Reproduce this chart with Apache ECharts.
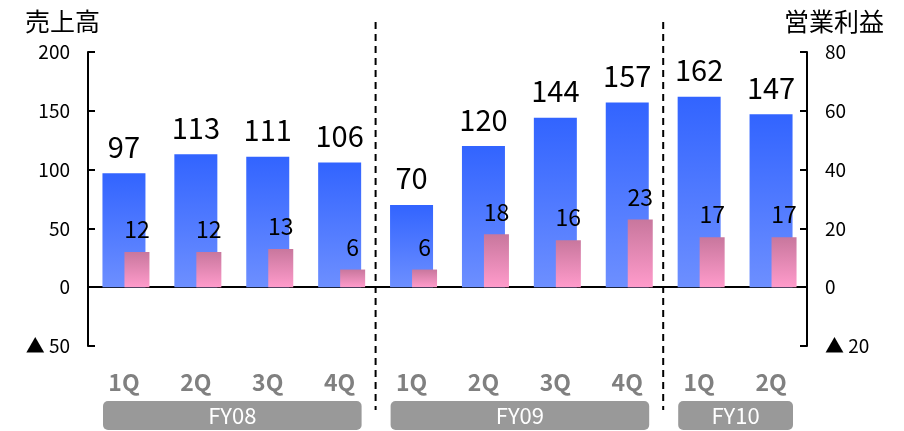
<!DOCTYPE html>
<html><head><meta charset="utf-8">
<script src="https://cdn.jsdelivr.net/npm/echarts@6/dist/echarts.min.js"></script>
<style>html,body{margin:0;padding:0;background:#fff}#c{width:904px;height:431px}</style>
</head><body><div id="c"></div><script>
// ---- data ----
const quarters = ['1Q','2Q','3Q','4Q','1Q','2Q','3Q','4Q','1Q','2Q'];
const fiscalYears = ['FY08','FY09','FY10'];
const quartersPerYear = [4,4,2];
const sales = [97,113,111,106,70,120,144,157,162,147];
const operatingProfit = [12,12,13,6,6,18,16,23,17,17];
const salesRange = {min:-50,max:200,interval:50};
const profitRange = {min:-20,max:80,interval:20};
const salesTitle = '売上高';
const profitTitle = '営業利益';

// ---- chart ----
const FONT = '"Noto Sans CJK JP","Noto Sans",sans-serif';
const chart = echarts.init(document.getElementById('c'), null, {renderer:'canvas'});
const neg = v => v < 0 ? '▲ ' + Math.abs(v) : String(v);
const blueGrad = new echarts.graphic.LinearGradient(0,0,0,1,[{offset:0,color:'#3264ff'},{offset:1,color:'#6d8fff'}]);
const pinkGrad = new echarts.graphic.LinearGradient(0,0,0,1,[{offset:0,color:'#c8779d'},{offset:1,color:'#ff9bcb'}]);

const option = {
  animation:false,
  title:[
    {text:salesTitle,left:20,top:4,textStyle:{fontFamily:FONT,fontSize:25,fontWeight:'normal',color:'#000'}},
    {text:profitTitle,right:15,top:4,textStyle:{fontFamily:FONT,fontSize:25,fontWeight:'normal',color:'#000'}}
  ],
  grid:{left:88,right:97,top:52,bottom:85,containLabel:false},
  xAxis:[
    {type:'category',data:quarters,axisLine:{onZero:true,lineStyle:{color:'#000',width:2}},
     axisTick:{inside:true,length:9,lineStyle:{color:'#000',width:2}},axisLabel:{show:false},splitLine:{show:false}},
    {type:'category',data:quarters,position:'bottom',axisLine:{show:false,onZero:false},axisTick:{show:false},
     axisLabel:{margin:25,fontFamily:FONT,fontSize:23,fontWeight:'bold',color:'#808080'}}
  ],
  yAxis:[
    {type:'value',min:salesRange.min,max:salesRange.max,interval:salesRange.interval,
     axisLine:{show:true,lineStyle:{color:'#000',width:2}},axisTick:{show:true,inside:true,length:7,lineStyle:{color:'#000',width:2}},
     splitLine:{show:false},axisLabel:{margin:18,fontFamily:FONT,fontSize:19,color:'#000',formatter:neg}},
    {type:'value',min:profitRange.min,max:profitRange.max,interval:profitRange.interval,position:'right',
     axisLine:{show:true,lineStyle:{color:'#000',width:2}},axisTick:{show:true,inside:true,length:7,lineStyle:{color:'#000',width:2}},
     splitLine:{show:false},axisLabel:{margin:18,fontFamily:FONT,fontSize:19,color:'#000',formatter:neg}}
  ],
  series:[
    {name:salesTitle,type:'bar',xAxisIndex:0,yAxisIndex:0,data:sales,barWidth:43,itemStyle:{color:blueGrad},
     label:{show:true,position:'top',distance:12,fontFamily:FONT,fontSize:29,color:'#000'}},
    {name:'spacer',type:'bar',xAxisIndex:1,yAxisIndex:1,data:[],barWidth:26,barGap:0,silent:true},
    {name:profitTitle,type:'bar',xAxisIndex:1,yAxisIndex:1,data:operatingProfit,barWidth:25,barGap:0,itemStyle:{color:pinkGrad},
     label:{show:true,position:'top',distance:11,fontFamily:FONT,fontSize:23,color:'#000'}}
  ]
};
chart.setOption(option);

// separators and fiscal-year boxes, positioned from the axis scale
function drawExtras(){
  const cx = i => chart.convertToPixel({xAxisIndex:0}, i);
  const band = cx(1) - cx(0);
  const yBottom = chart.convertToPixel({yAxisIndex:0}, salesRange.min);
  const els = [];
  let start = 0;
  quartersPerYear.forEach((n, k) => {
    const left = cx(start) - band/2, right = cx(start+n-1) + band/2;
    const bx = left + 15, bw = right - left - 29;
    els.push({type:'rect',shape:{x:bx,y:yBottom+55,width:bw,height:29,r:5},style:{fill:'#999999'},silent:true});
    els.push({type:'text',x:bx+bw/2,y:yBottom+55+14.5,style:{text:fiscalYears[k],fill:'#fff',font:'22px '+FONT,textAlign:'center',textVerticalAlign:'middle'},silent:true});
    if (k < quartersPerYear.length-1) {
      els.push({type:'line',shape:{x1:right,y1:22,x2:right,y2:yBottom+64},style:{stroke:'#000',lineWidth:2,lineDash:[7,5]},silent:true});
    }
    start += n;
  });
  chart.setOption({graphic:els});
}
drawExtras();
</script></body></html>
